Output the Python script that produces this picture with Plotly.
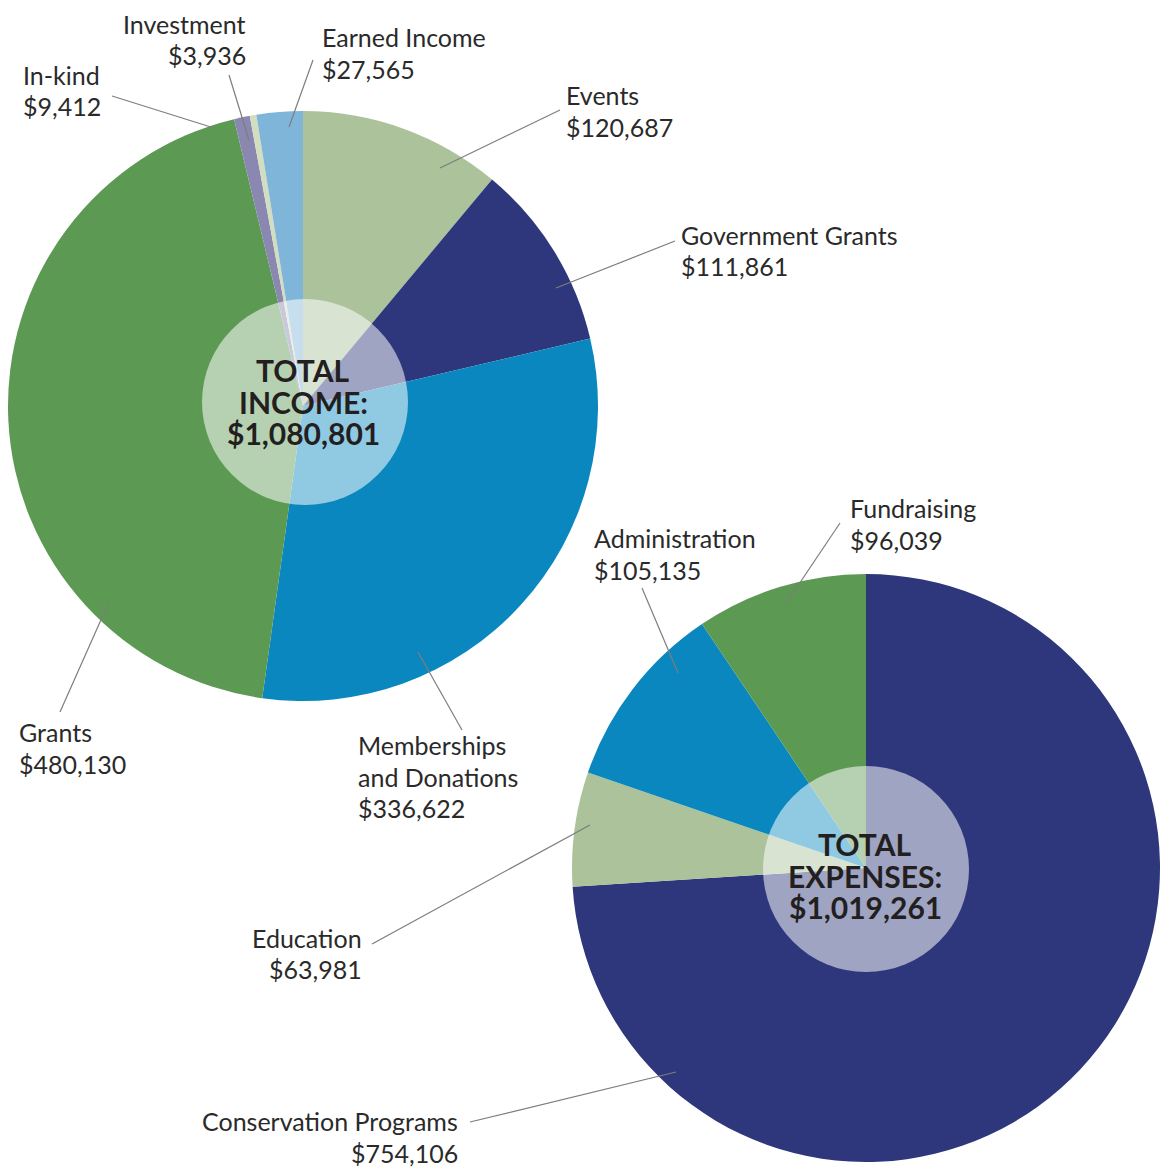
import plotly.graph_objects as go

W = H = 1168

# ---- data ----
income_labels = ["Events", "Government Grants", "Memberships and Donations", "Grants",
                 "In-kind", "Investment", "Earned Income"]
income_values = [120687, 111861, 336622, 480130, 9412, 3936, 27565]
income_colors = ["#ABC29B", "#2E377B", "#0A87BE", "#5C9952", "#8A87B1", "#D3DEC0", "#80B5DA"]

expense_labels = ["Conservation Programs", "Education", "Administration", "Fundraising"]
expense_values = [754106, 63981, 105135, 96039]
expense_colors = ["#2E377B", "#ABC29B", "#0A87BE", "#5C9952"]

income_total_text = ["TOTAL", "INCOME:", "$1,080,801"]
expense_total_text = ["TOTAL", "EXPENSES:", "$1,019,261"]


def px(x):
    return x / W


def py(y):
    return 1 - y / H


def fmt(v):
    return "${:,}".format(v)


fig = go.Figure()

# income pie: center (303,406) r 295
ic, ir = (303, 406), 295
fig.add_trace(go.Pie(
    labels=income_labels, values=income_values, sort=False, direction="clockwise",
    rotation=0, textinfo="none", hoverinfo="label+value",
    marker=dict(colors=income_colors, line=dict(width=0)),
    domain=dict(x=[px(ic[0] - ir), px(ic[0] + ir)], y=[py(ic[1] + ir), py(ic[1] - ir)]),
    showlegend=False,
))

ec, er = (866, 868), 294
fig.add_trace(go.Pie(
    labels=expense_labels, values=expense_values, sort=False, direction="clockwise",
    rotation=0, textinfo="none", hoverinfo="label+value",
    marker=dict(colors=expense_colors, line=dict(width=0)),
    domain=dict(x=[px(ec[0] - er), px(ec[0] + er)], y=[py(ec[1] + er), py(ec[1] - er)]),
    showlegend=False,
))

shapes = []
annotations = []

# centre discs
for (cx, cy), r in [((305, 402), 103), ((866, 869), 103)]:
    shapes.append(dict(type="circle", xref="paper", yref="paper",
                       x0=px(cx - r), x1=px(cx + r), y0=py(cy + r), y1=py(cy - r),
                       fillcolor="rgba(255,255,255,0.55)", line=dict(width=0), layer="above"))

# leader lines (pixel positions)
leaders = [
    ((112, 96), (214, 128)),
    ((229, 75), (249, 140)),
    ((313, 60), (289, 127)),
    ((560, 110), (440, 168)),
    ((675, 241), (556, 288)),
    ((462, 730), (418, 652)),
    ((60, 712), (108, 604)),
    ((642, 588), (678, 673)),
    ((840, 523), (785, 605)),
    ((372, 944), (590, 825)),
    ((470, 1122), (676, 1072)),
]
for (x0, y0), (x1, y1) in leaders:
    shapes.append(dict(type="line", xref="paper", yref="paper",
                       x0=px(x0), y0=py(y0), x1=px(x1), y1=py(y1),
                       line=dict(color="#7d7d7d", width=1.2), layer="above"))

LBL_FONT = dict(family="Lato", size=25, color="#2a2a2a")
LS = 31.5

# (lines, x, first-line y, anchor)
label_specs = [
    (["Investment", fmt(income_values[5])], 247, 24, "right"),
    (["In-kind", fmt(income_values[4])], 22, 75, "left"),
    (["Earned Income", fmt(income_values[6])], 321, 37, "left"),
    (["Events", fmt(income_values[0])], 565, 95, "left"),
    (["Government Grants", fmt(income_values[1])], 680, 235, "left"),
    (["Memberships", "and Donations", fmt(income_values[2])], 357, 745, "left"),
    (["Grants", fmt(income_values[3])], 18, 732, "left"),
    (["Administration", fmt(expense_values[2])], 593, 538, "left"),
    (["Fundraising", fmt(expense_values[3])], 849, 508, "left"),
    (["Education", fmt(expense_values[1])], 363, 938, "right"),
    (["Conservation Programs", fmt(expense_values[0])], 459, 1121, "right"),
]
for lines, x, y, anc in label_specs:
    for i, t in enumerate(lines):
        annotations.append(dict(text=t, x=px(x), y=py(y + i * LS), xref="paper", yref="paper",
                                xanchor=anc, yanchor="middle", showarrow=False, font=LBL_FONT,
                                borderpad=0))

TOT_FONT = dict(family="Lato", size=30, color="#231F20")
for lines, cx, y0 in [(income_total_text, 303, 370), (expense_total_text, 865, 844)]:
    for i, t in enumerate(lines):
        annotations.append(dict(text="<b>%s</b>" % t, x=px(cx), y=py(y0 + i * 31.5),
                                xref="paper", yref="paper", xanchor="center", yanchor="middle",
                                showarrow=False, font=TOT_FONT, borderpad=0))

fig.update_layout(width=W, height=H, margin=dict(l=0, r=0, t=0, b=0),
                  paper_bgcolor="white", plot_bgcolor="white",
                  shapes=shapes, annotations=annotations)

fig.write_html("out.html", config={"displayModeBar": False},
               post_script="document.body.style.margin='0px';document.body.style.overflow='hidden';")
